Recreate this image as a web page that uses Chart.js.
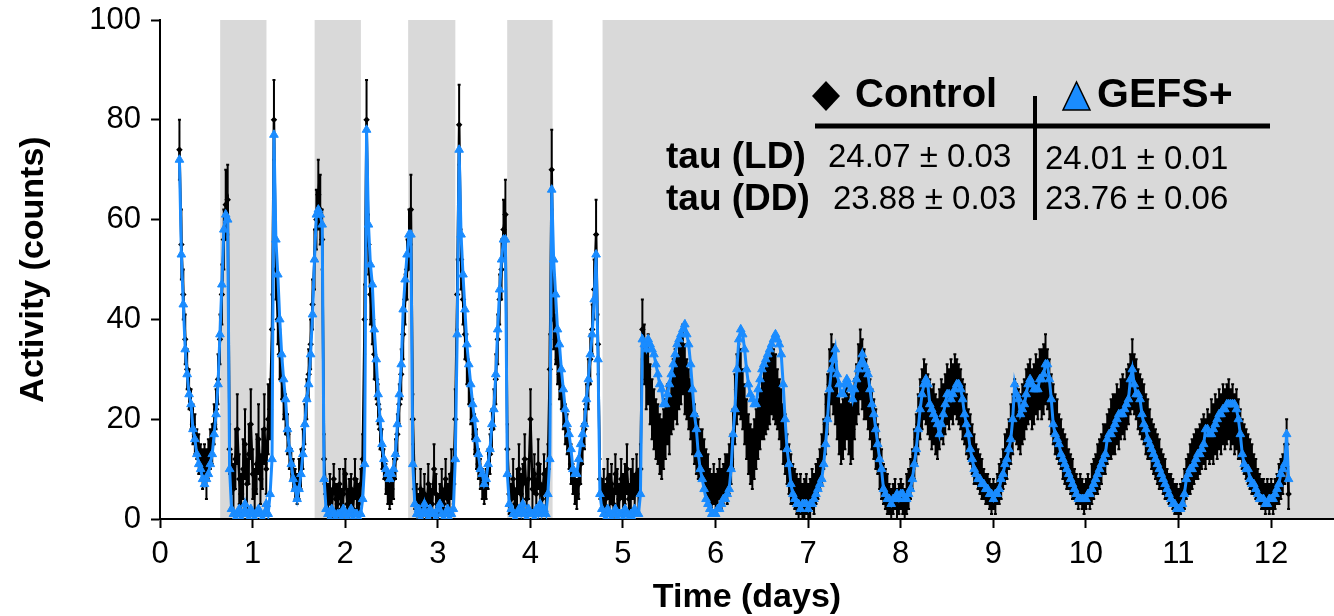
<!DOCTYPE html>
<html>
<head>
<meta charset="utf-8">
<script src="https://cdn.jsdelivr.net/npm/chart.js@4.4.0/dist/chart.umd.min.js"></script>
<style>
  html, body { margin: 0; padding: 0; background: #fff; }
  #wrap { width: 1334px; height: 616px; }
</style>
</head>
<body>
<div id="wrap"><canvas id="activityChart" width="1334" height="616"></canvas></div>
<script>
// 30 min bins, first bin at day 0.21
const t0 = 0.21;
const binDays = 1 / 48;

// lights-off periods (days); the last one runs on into constant darkness
const darkStart = [0.65, 1.67, 2.68, 3.75, 4.78];
const darkEnd = [1.15, 2.17, 3.19, 4.24, 12.7];

// GEFS+ mean activity per bin
const gefs = [
  72,53,43,34,29,25,23,18,16,13,11,10,8,7,8,9,11,13,17,21,27,37,47,58,
  61,60,10,2,1,0,1,2,0,1,3,1,0,2,1,0,1,2,1,0,1,3,1,5,
  12,77,56,49,40,33,28,24,18,14,11,8,6,4,6,9,13,19,24,27,33,41,52,61,
  62,61,59,8,2,1,0,2,1,0,1,1,0,2,1,0,1,2,0,1,1,0,1,4,
  11,78,59,51,47,38,32,25,20,15,12,10,9,8,9,10,13,19,25,31,42,48,53,57,
  57,11,3,1,2,0,1,3,1,0,2,1,1,0,2,3,1,0,1,2,0,1,2,12,
  37,74,57,49,42,35,31,27,23,20,16,13,10,9,7,8,11,14,19,22,29,38,46,52,
  56,56,9,3,2,1,0,1,2,1,3,1,0,2,1,1,0,2,1,3,1,2,1,5,
  12,66,52,45,38,35,30,26,22,19,17,14,10,9,9,12,15,17,19,24,28,33,37,44,
  53,32,5,2,1,0,2,1,0,1,2,0,1,1,0,2,1,0,1,0,2,1,1,5,
  36,35,34,36,35,34,33,31,29,27,26,23,23,25,27,29,31,33,35,36,37,38,39,37,
  35,31,26,21,18,13,10,8,6,4,3,2,1,1,1,2,2,3,4,4,5,6,10,17,
  22,30,36,38,37,34,30,27,25,24,23,23,26,28,30,31,32,33,34,35,36,37,36,35,
  33,27,20,14,11,7,5,4,3,3,2,3,3,3,2,3,3,4,5,6,7,8,11,15,
  20,26,30,32,34,29,27,25,25,27,28,27,26,24,26,28,30,31,33,31,30,29,26,23,
  21,18,15,12,10,6,5,4,4,3,4,4,5,4,5,5,4,4,5,6,8,11,14,18,
  22,25,27,28,27,23,22,21,20,19,17,19,21,23,25,25,24,25,26,27,27,26,24,21,
  19,17,14,12,10,9,8,8,7,7,6,6,5,5,4,5,5,6,8,9,11,12,14,16,
  20,27,25,24,21,22,23,25,27,28,27,26,26,26,28,28,29,31,31,28,24,19,17,16,
  15,13,12,11,10,9,8,7,6,5,4,4,4,4,4,5,5,6,7,8,9,10,11,12,
  13,16,17,17,18,19,20,21,21,21,22,23,24,28,30,27,25,25,24,21,19,18,16,15,
  14,13,12,11,10,9,8,7,6,5,4,3,3,2,2,2,3,5,8,9,10,10,11,12,
  13,13,14,15,18,18,17,17,18,19,20,21,21,22,22,23,23,23,23,23,22,20,17,13,
  11,10,10,8,7,7,6,5,4,4,4,3,3,4,4,4,5,6,7,9,10,11,17,8
];

// Control mean activity per bin
const control = [
  74,55,45,36,30,26,22,19,17,15,13,12,10,11,9,12,14,15,19,22,28,36,45,56,
  63,64,14,9,6,12,18,8,5,10,15,7,13,19,9,6,11,16,8,12,18,10,20,22,
  38,80,50,40,33,28,24,21,17,14,11,9,7,6,8,10,14,19,24,29,35,43,52,60,
  65,62,56,12,5,3,6,2,8,4,3,7,2,5,9,3,4,6,2,8,5,3,7,12,
  40,80,55,45,40,33,28,23,18,14,11,8,6,5,6,8,12,17,23,29,37,44,50,56,
  62,20,6,4,2,6,3,5,2,7,4,3,10,5,2,4,6,3,8,4,5,9,7,20,
  45,79,52,44,37,32,27,23,20,17,14,11,9,7,6,7,10,13,18,22,28,36,44,50,
  58,61,14,5,4,8,3,6,10,5,7,12,4,8,20,6,9,5,11,7,4,9,6,10,
  30,70,40,36,32,29,26,22,19,17,14,11,8,6,5,7,11,15,18,23,27,32,38,46,
  57,35,8,5,6,4,8,5,7,3,9,6,4,8,5,7,10,4,6,8,5,9,6,10,
  38,33,28,30,25,22,20,18,17,15,14,16,18,21,19,23,25,27,26,29,30,32,28,26,
  24,22,19,17,15,14,13,13,11,9,8,6,5,7,5,6,8,6,7,9,8,10,12,16,
  22,26,28,27,24,21,18,15,13,12,14,16,18,20,22,23,24,25,26,28,27,26,24,22,
  20,17,15,12,10,8,7,6,5,4,5,3,4,5,3,4,6,5,7,8,10,12,15,19,
  23,27,30,28,25,22,19,17,18,20,22,19,17,18,22,25,28,31,29,27,26,24,22,20,
  18,16,14,11,9,7,6,5,4,3,4,5,3,4,5,4,3,5,6,8,10,13,16,19,
  22,24,26,25,23,22,20,21,19,18,20,22,21,23,25,24,26,25,27,26,25,24,22,21,
  19,17,16,14,12,11,10,9,8,7,6,6,5,4,5,4,6,7,8,10,12,13,15,17,
  19,22,21,20,19,21,22,24,25,26,24,25,27,26,28,27,28,30,28,26,23,21,19,18,
  16,15,13,12,11,10,9,8,7,6,5,6,5,4,5,6,5,7,8,9,10,11,12,14,
  14,16,17,18,19,19,21,20,22,23,22,24,25,27,29,27,26,24,23,22,21,19,18,17,
  15,14,13,12,11,10,9,8,7,6,6,5,4,4,3,4,5,6,8,9,10,11,12,13,
  13,14,15,16,15,17,16,18,17,19,18,20,19,21,20,21,22,20,21,19,20,18,17,15,
  14,13,12,11,10,9,8,7,6,5,5,4,5,4,5,4,5,6,7,8,9,11,15,5
];

// Control SEM per bin
const controlErr = [
  6,7,5,5,4,4,4,4,4,3,4,3,4,4,5,4,4,4,4,4,5,5,6,6,
  7,7,5,4,5,6,7,5,4,6,7,5,6,7,5,4,6,7,5,6,7,5,7,6,
  7,8,6,5,5,4,4,4,4,4,3,3,3,3,4,4,4,4,4,5,5,5,6,6,
  7,7,6,5,3,4,3,4,3,3,4,3,4,5,3,3,4,3,4,4,3,4,3,5,
  7,8,6,6,5,5,4,4,4,4,3,3,3,3,3,4,4,4,4,5,5,5,6,6,
  7,5,4,3,3,4,3,4,3,4,3,3,5,4,3,3,4,3,4,3,4,5,4,6,
  7,8,6,5,5,5,4,4,4,4,4,3,3,3,3,3,4,4,4,4,5,5,5,6,
  6,7,5,4,3,4,3,4,5,4,4,5,3,4,6,4,4,3,5,4,3,4,4,5,
  7,8,6,5,5,5,4,4,4,4,4,4,3,3,3,3,4,4,4,4,5,5,5,6,
  7,6,4,3,4,3,4,4,4,3,4,4,3,4,4,4,5,3,4,4,4,4,4,5,
  6,6,6,7,6,6,6,6,6,6,6,6,6,6,6,6,7,7,7,7,7,7,7,6,
  6,6,6,6,6,6,5,5,5,5,5,4,4,4,4,4,4,4,4,4,5,5,5,6,
  7,7,7,7,6,6,6,6,6,6,6,6,6,6,6,7,7,7,7,7,7,7,6,6,
  6,6,6,5,5,5,4,4,4,4,4,4,4,4,4,4,4,4,4,4,4,5,5,6,
  6,7,7,7,6,6,6,6,6,6,6,6,6,6,6,6,7,7,7,7,6,6,6,6,
  6,6,5,5,5,4,4,4,3,3,3,3,3,3,3,3,3,4,4,4,4,5,5,6,
  6,6,6,6,6,6,6,6,6,6,6,6,6,6,6,6,6,6,6,6,6,6,6,6,
  6,5,5,5,5,4,4,4,4,3,3,3,3,3,3,3,3,4,4,4,5,5,5,6,
  6,6,6,6,6,6,6,6,6,6,6,6,6,6,6,7,7,7,6,6,6,6,6,6,
  5,5,5,5,5,4,4,4,3,3,3,3,3,3,3,3,3,4,4,4,5,5,5,5,
  5,5,5,6,6,6,6,6,6,6,6,6,6,6,7,6,6,6,6,6,6,6,6,5,
  5,5,5,5,5,4,4,4,3,3,3,3,3,3,3,3,3,4,4,4,5,5,5,5,
  5,5,5,5,5,5,5,6,6,6,6,6,6,6,6,6,6,6,6,6,6,6,5,5,
  5,5,5,5,5,4,4,3,3,3,3,3,3,3,3,3,3,3,4,4,4,4,5,3
];

const tauRows = ['tau (LD)', 'tau (DD)'];
const tauControl = ['24.07 \u00b1 0.03', '23.88 \u00b1 0.03'];
const tauGefs = ['24.01 \u00b1 0.01', '23.76 \u00b1 0.06'];

const FONT = "'Liberation Sans', Arial, Helvetica, sans-serif";
const BLUE = '#1a8cff';
Chart.defaults.font.family = FONT;
Chart.defaults.color = '#000';

const toPoints = arr => arr.map((v, i) => ({ x: t0 + i * binDays, y: v }));

const darkBands = {
  id: 'darkBands',
  beforeDraw(chart) {
    const { ctx, chartArea, scales: { x } } = chart;
    ctx.save();
    ctx.fillStyle = '#d9d9d9';
    darkStart.forEach((s, i) => {
      const x1 = x.getPixelForValue(s);
      const x2 = Math.min(x.getPixelForValue(darkEnd[i]), chartArea.right);
      ctx.fillRect(x1, chartArea.top, x2 - x1, chartArea.bottom - chartArea.top);
    });
    ctx.restore();
  }
};

const errorBars = {
  id: 'errorBars',
  afterDatasetDraw(chart, args) {
    if (args.index !== 1) return;
    const { ctx, chartArea, scales: { x, y } } = chart;
    ctx.save();
    ctx.beginPath();
    ctx.rect(chartArea.left, chartArea.top, chartArea.right - chartArea.left, chartArea.bottom - chartArea.top);
    ctx.clip();
    ctx.strokeStyle = '#000';
    ctx.lineWidth = 2;
    ctx.beginPath();
    control.forEach((v, i) => {
      const px = x.getPixelForValue(t0 + i * binDays);
      const lo = y.getPixelForValue(v - controlErr[i]);
      const hi = y.getPixelForValue(v + controlErr[i]);
      ctx.moveTo(px, lo);
      ctx.lineTo(px, hi);
      ctx.moveTo(px - 1.5, hi);
      ctx.lineTo(px + 1.5, hi);
      ctx.moveTo(px - 1.5, lo);
      ctx.lineTo(px + 1.5, lo);
    });
    ctx.stroke();
    ctx.restore();
  }
};

const tauTable = {
  id: 'tauTable',
  afterDraw(chart) {
    const ctx = chart.ctx;
    ctx.save();
    ctx.fillStyle = '#000';
    ctx.strokeStyle = '#000';
    ctx.textBaseline = 'middle';
    ctx.textAlign = 'left';

    // header
    ctx.beginPath();
    ctx.moveTo(826, 81); ctx.lineTo(840, 96); ctx.lineTo(826, 111); ctx.lineTo(812, 96);
    ctx.closePath();
    ctx.fill();
    ctx.font = 'bold 40px ' + FONT;
    ctx.fillText('Control', 855, 96);

    ctx.beginPath();
    ctx.moveTo(1063, 110); ctx.lineTo(1090, 110); ctx.lineTo(1076.5, 82);
    ctx.closePath();
    ctx.fillStyle = BLUE;
    ctx.fill();
    ctx.lineWidth = 1.5;
    ctx.stroke();
    ctx.fillStyle = '#000';
    ctx.font = 'bold 41px ' + FONT;
    ctx.fillText('GEFS+', 1097, 96);

    ctx.lineWidth = 5;
    ctx.beginPath();
    ctx.moveTo(815, 126); ctx.lineTo(1270, 126);
    ctx.stroke();
    ctx.lineWidth = 4;
    ctx.beginPath();
    ctx.moveTo(1035, 96); ctx.lineTo(1035, 220);
    ctx.stroke();

    // rows
    const rowY = [158, 200];
    tauRows.forEach((label, i) => {
      ctx.font = 'bold 37px ' + FONT;
      ctx.fillText(label, 666, rowY[i]);
      ctx.font = '33px ' + FONT;
      ctx.fillText(tauControl[i], i === 0 ? 828 : 833, rowY[i]);
      ctx.fillText(tauGefs[i], 1045, rowY[i] + (i === 0 ? 2 : 0));
    });
    ctx.restore();
  }
};

const config = {
  type: 'line',
  data: {
    datasets: [
      {
        label: 'GEFS+',
        data: toPoints(gefs),
        borderColor: BLUE,
        backgroundColor: BLUE,
        borderWidth: 3,
        pointStyle: 'triangle',
        pointRadius: 5,
        pointBorderWidth: 1,
        pointBackgroundColor: BLUE,
        pointBorderColor: BLUE,
        tension: 0,
        order: 1
      },
      {
        label: 'Control',
        data: toPoints(control),
        borderColor: '#000',
        backgroundColor: '#000',
        borderWidth: 2.5,
        pointStyle: 'rectRot',
        pointRadius: 1.5,
        pointBackgroundColor: '#000',
        pointBorderColor: '#000',
        tension: 0,
        order: 2
      }
    ]
  },
  options: {
    responsive: false,
    animation: false,
    layout: { autoPadding: false, padding: { top: 20, right: 0, bottom: 0, left: 0 } },
    plugins: {
      legend: { display: false },
      tooltip: { enabled: false }
    },
    scales: {
      x: {
        type: 'linear',
        min: 0,
        max: 12.68,
        ticks: { stepSize: 1, includeBounds: false, autoSkip: false, maxRotation: 0, padding: 8, font: { size: 31 } },
        grid: { drawOnChartArea: false, drawTicks: true, tickLength: 9, tickWidth: 2, tickColor: '#000' },
        border: { display: true, color: '#000', width: 2 },
        title: { display: true, text: 'Time (days)', font: { size: 34, weight: 'bold', lineHeight: 1.1 }, padding: { top: 0, bottom: 0 } },
        afterFit: s => { s.height = 97; s.paddingLeft = 0; s.paddingRight = 0; }
      },
      y: {
        min: 0,
        max: 100,
        ticks: { stepSize: 20, padding: 10, font: { size: 31 } },
        grid: { drawOnChartArea: false, drawTicks: true, tickLength: 9, tickWidth: 2, tickColor: '#000' },
        border: { display: true, color: '#000', width: 2 },
        title: { display: true, text: 'Activity (counts)', font: { size: 34, weight: 'bold' }, padding: { top: 13, bottom: 0 } },
        afterFit: s => { s.width = 160; s.paddingTop = 0; s.paddingBottom = 0; }
      }
    }
  },
  plugins: [darkBands, errorBars, tauTable]
};

const activityChart = new Chart(document.getElementById('activityChart'), config);
</script>
</body>
</html>
